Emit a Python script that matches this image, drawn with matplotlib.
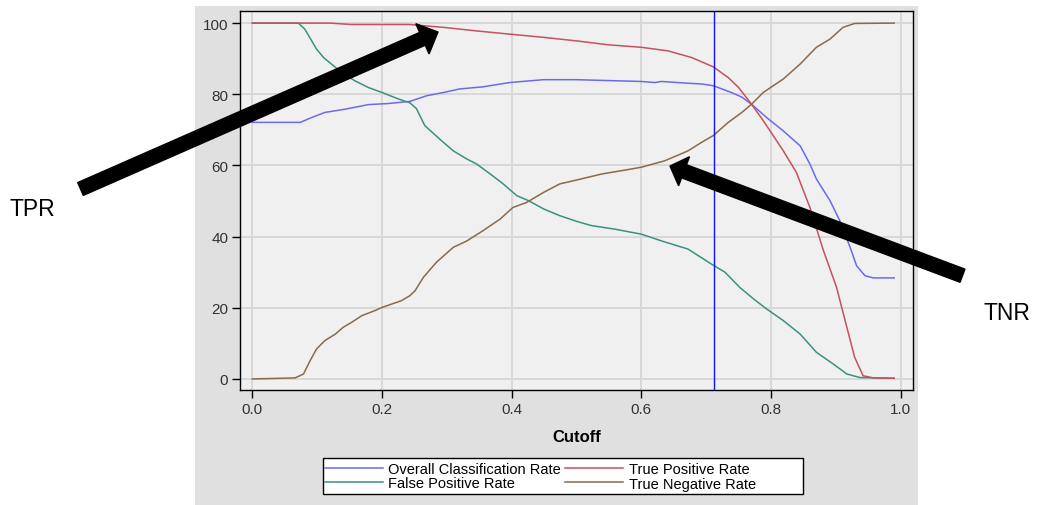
import matplotlib
matplotlib.use("Agg")
import matplotlib.pyplot as plt
from matplotlib.patches import Rectangle, FancyArrow

plt.rcParams["font.family"] = ["Liberation Sans", "DejaVu Sans"]

# values
ocr_x = [0, 0.074, 0.092, 0.112, 0.143, 0.179, 0.210, 0.243, 0.269, 0.295, 0.320, 0.356,
         0.397, 0.449, 0.500, 0.559, 0.600, 0.621, 0.631, 0.672, 0.693, 0.711, 0.739, 0.755,
         0.770, 0.793, 0.819, 0.845, 0.860, 0.870, 0.891, 0.906, 0.922, 0.932, 0.945, 0.958, 0.990]
ocr_y = [72.1, 72.1, 73.5, 74.9, 75.8, 77.1, 77.4, 78.0, 79.6, 80.5, 81.5, 82.1,
         83.3, 84.1, 84.1, 83.8, 83.6, 83.3, 83.6, 83.1, 82.9, 82.4, 80.5, 79.2,
         77.2, 73.5, 69.7, 65.5, 60.4, 56.2, 50.1, 44.5, 37.0, 31.8, 29.0, 28.4, 28.4]

tpr_x = [0, 0.12, 0.153, 0.243, 0.295, 0.346, 0.397, 0.449, 0.500, 0.549, 0.600, 0.641,
         0.678, 0.711, 0.734, 0.750, 0.770, 0.788, 0.819, 0.839, 0.860, 0.881, 0.901, 0.917,
         0.929, 0.942, 0.958, 0.990]
tpr_y = [100, 100, 99.6, 99.6, 98.8, 97.8, 96.9, 96.0, 95.0, 93.9, 93.2, 92.2,
         90.3, 87.7, 84.7, 81.9, 77.2, 72.6, 64.1, 58.1, 48.2, 36.0, 25.8, 14.5,
         6.1, 0.9, 0.3, 0.2]

fpr_x = [0, 0.071, 0.081, 0.099, 0.110, 0.122, 0.138, 0.158, 0.179, 0.200, 0.225, 0.243,
         0.253, 0.266, 0.289, 0.310, 0.331, 0.346, 0.367, 0.387, 0.408, 0.426, 0.449, 0.474,
         0.500, 0.523, 0.559, 0.585, 0.600, 0.631, 0.672, 0.708, 0.729, 0.752, 0.773, 0.793,
         0.819, 0.845, 0.870, 0.896, 0.917, 0.937, 0.990]
fpr_y = [100, 100, 98.3, 92.7, 90.3, 88.5, 86.1, 83.8, 81.9, 80.5, 78.7, 77.6,
         76.0, 71.2, 67.4, 64.1, 61.8, 60.4, 57.6, 54.8, 51.5, 50.1, 47.8, 45.9,
         44.3, 43.1, 42.1, 41.2, 40.7, 38.8, 36.5, 32.3, 30.0, 25.7, 22.5, 19.7,
         16.4, 12.6, 7.5, 4.2, 1.4, 0.4, 0.2]

tnr_x = [0, 0.066, 0.079, 0.089, 0.099, 0.112, 0.128, 0.140, 0.153, 0.169, 0.189, 0.200,
         0.230, 0.243, 0.251, 0.264, 0.284, 0.310, 0.331, 0.356, 0.382, 0.402, 0.423, 0.449,
         0.474, 0.500, 0.539, 0.575, 0.600, 0.636, 0.672, 0.693, 0.711, 0.734, 0.755, 0.770,
         0.788, 0.819, 0.845, 0.870, 0.891, 0.911, 0.929, 0.990]
tnr_y = [0, 0.3, 1.4, 5.1, 8.4, 10.8, 12.6, 14.5, 15.9, 17.8, 19.2, 20.1,
         22.0, 23.4, 24.8, 28.6, 32.8, 37.0, 38.8, 41.7, 44.9, 48.2, 49.6, 52.4,
         54.8, 55.9, 57.6, 58.7, 59.5, 61.3, 64.1, 66.5, 68.4, 72.1, 74.9, 77.2,
         80.5, 84.3, 88.5, 93.2, 95.5, 98.8, 99.9, 100]

cutoff_line = 0.7115
x_ticks = [0.0, 0.2, 0.4, 0.6, 0.8, 1.0]
y_ticks = [0, 20, 40, 60, 80, 100]

W, H = 1037, 506
fig = plt.figure(figsize=(W / 100, H / 100), dpi=100)
fig.patch.set_facecolor("white")

# gray panel behind the plot
fig.add_artist(Rectangle((195 / W, 0), (918 - 195) / W, 1 - 7 / H,
                         transform=fig.transFigure, facecolor="#e0e0e0",
                         edgecolor="none", zorder=-1))

ax = fig.add_axes([240 / W, 1 - 391 / H, (913 - 240) / W, (391 - 12) / H])
ax.set_facecolor("#f0f0f0")

ax.plot(ocr_x, ocr_y, color="#6a6af0", lw=1.1, label="Overall Classification Rate")
ax.plot(fpr_x, fpr_y, color="#3a9182", lw=1.1, label="False Positive Rate")
ax.plot(tpr_x, tpr_y, color="#c8505f", lw=1.1, label="True Positive Rate")
ax.plot(tnr_x, tnr_y, color="#8a6a4a", lw=1.1, label="True Negative Rate")
ax.axvline(cutoff_line, color="#1010ff", lw=1.0)

ax.set_xlim(-0.019, 1.019)
ax.set_ylim(-3.1, 103.4)
ax.set_xticks(x_ticks)
ax.set_xticklabels([f"{t:.1f}" for t in x_ticks])
ax.set_yticks(y_ticks)
ax.grid(True, color="#d8d8d8", lw=1.4)
ax.set_axisbelow(True)
ax.tick_params(direction="out", length=5.5, width=1, labelsize=11,
               labelcolor="#333333", pad=3)
for s in ax.spines.values():
    s.set_color("black")
    s.set_linewidth(1)

ax.set_xlabel("Cutoff", fontsize=12, fontweight="bold")
ax.xaxis.set_label_coords(0.5, -0.103)

# overlay in pixel coordinates for legend box and annotations
ov = fig.add_axes([0, 0, 1, 1], zorder=5)
ov.set_xlim(0, W)
ov.set_ylim(H, 0)
ov.axis("off")
ov.patch.set_alpha(0)

ov.add_patch(Rectangle((323, 459), 480, 36, facecolor="white",
                       edgecolor="black", lw=1, zorder=1))
handles, labels = ax.get_legend_handles_labels()
ov.legend(handles, labels, ncol=2, loc="upper left",
          bbox_to_anchor=(325 / W, 1 - 463.5 / H), bbox_transform=fig.transFigure,
          fontsize=10.5, frameon=False, handlelength=4.0, handletextpad=0.35,
          columnspacing=0.27, labelspacing=0.0, borderpad=0, borderaxespad=0)

ov.add_patch(FancyArrow(80.5, 190, 357.5, -157, width=14, head_width=33,
                        head_length=17, length_includes_head=True,
                        color="black"))
ov.add_patch(FancyArrow(962.5, 276.7, -292.5, -109.7, width=14, head_width=31,
                        head_length=15, length_includes_head=True,
                        color="black"))
ov.text(32, 210, "TPR", fontsize=16.5, ha="center", va="center")
ov.text(1007, 313, "TNR", fontsize=16.5, ha="center", va="center")

fig.savefig("out.png", dpi=100)
